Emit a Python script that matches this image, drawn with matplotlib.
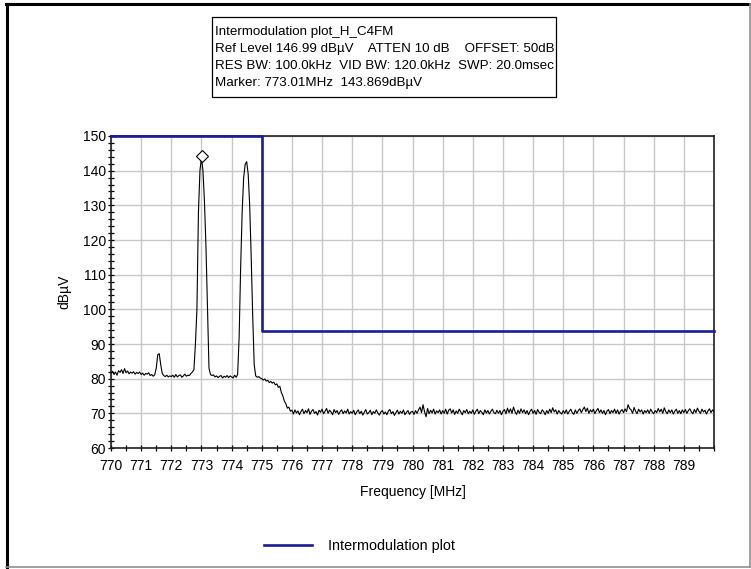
import numpy as np
import matplotlib.pyplot as plt
from matplotlib.lines import Line2D
from matplotlib.patches import Rectangle
from matplotlib.ticker import MultipleLocator

plt.rcParams['font.family'] = ['Liberation Sans', 'DejaVu Sans']

W, H = 751, 569  # pixels

# sweep: 770 - 790 MHz, 401 points
freq = np.linspace(770.0, 790.0, 401)
level = [
    81.6, 82.1, 81.2, 81.9, 81.0, 82.3, 81.8, 82.6, 81.5, 82.9, 81.7, 82.2, 81.4, 81.9, 81.6, 82.0, 81.3, 81.8, 81.5, 81.9,
    81.2, 81.6, 81.0, 81.5, 81.3, 81.7, 80.9, 81.2, 80.7, 81.1, 83.0, 86.9, 87.2, 84.0, 81.5, 80.9, 80.6, 81.0, 80.5, 80.8,
    80.6, 81.0, 80.4, 81.2, 80.5, 80.9, 81.1, 80.4, 80.8, 81.3, 80.7, 81.0, 80.9, 81.5, 81.9, 82.6, 90.0, 100.0, 128.0, 140.0,
    143.869, 140.0, 131.0, 118.0, 100.0, 83.0, 81.2, 80.9, 81.1, 80.5, 80.8, 80.3, 80.7, 80.9, 80.2, 80.7, 80.4, 80.9, 80.3, 80.8,
    80.5, 80.2, 81.0, 80.4, 81.2, 92.0, 112.0, 128.0, 138.0, 141.8, 142.6, 139.0, 130.0, 115.0, 98.0, 84.0, 80.8, 80.4, 80.6, 80.2,
    80.0, 79.6, 79.9, 79.3, 79.5, 78.9, 79.2, 78.7, 79.0, 78.2, 78.5, 77.5, 77.8, 76.0, 75.0, 73.5, 72.8, 71.5, 71.8, 70.6,
    70.9, 69.8, 71.0, 70.1, 70.7, 69.6, 70.5, 71.2, 69.9, 70.8, 70.2, 71.3, 69.7, 70.6, 71.1, 70.0, 70.5, 69.5, 70.9, 70.3,
    71.2, 69.9, 70.6, 71.4, 70.0, 70.9, 70.4, 69.6, 71.1, 70.2, 70.8, 69.7, 70.5, 71.0, 69.9, 70.7, 70.1, 71.2, 69.8, 70.5,
    70.0, 70.9, 69.6, 70.4, 71.0, 69.9, 70.6, 69.5, 70.3, 71.1, 69.8, 70.2, 70.9, 69.6, 70.5, 70.0, 71.0, 70.1, 69.5, 70.4,
    70.8, 69.8, 70.4, 69.6, 70.7, 71.1, 69.9, 70.5, 69.4, 70.2, 70.9, 69.8, 70.6, 70.0, 71.0, 69.6, 70.3, 70.8, 69.7, 70.4,
    70.6, 69.7, 70.8, 70.0, 71.0, 71.8, 70.2, 72.5, 70.4, 69.0, 71.4, 69.9, 70.9, 70.1, 71.2, 69.8, 70.7, 70.2, 71.0, 69.8,
    70.8, 70.0, 71.2, 69.8, 70.9, 71.3, 70.1, 71.0, 69.7, 70.7, 70.0, 71.2, 70.4, 69.6, 70.8, 70.2, 71.1, 69.9, 70.6, 70.0,
    71.0, 69.7, 70.6, 71.2, 69.9, 70.8, 70.3, 69.6, 71.0, 70.1, 70.8, 69.8, 70.6, 71.2, 70.2, 69.9, 70.9, 70.0, 70.8, 69.6,
    70.6, 71.1, 69.9, 71.5, 70.2, 71.3, 70.0, 71.8, 70.5, 69.7, 70.9, 70.0, 71.3, 70.2, 71.0, 69.9, 70.8, 69.6, 70.6, 71.2,
    70.0, 70.8, 69.7, 71.1, 70.3, 69.9, 71.0, 70.5, 69.6, 70.8, 70.0, 71.2, 70.2, 71.6, 70.4, 71.0, 69.8, 70.8, 70.2, 69.8,
    70.8, 70.0, 71.0, 69.8, 70.6, 71.2, 70.2, 69.7, 71.0, 70.0, 70.8, 71.3, 70.2, 71.1, 71.8, 70.5, 71.5, 70.0, 71.0, 70.4,
    71.2, 69.9, 70.8, 71.4, 70.2, 71.0, 70.0, 70.8, 69.6, 70.6, 71.1, 69.9, 70.8, 70.2, 71.2, 70.0, 71.0, 69.8, 70.6, 71.1,
    70.2, 71.3, 70.5, 72.5, 71.4, 71.0, 70.0, 71.7, 70.6, 69.9, 71.2, 70.4, 71.0, 69.8, 70.8, 70.2, 71.0, 70.0, 71.2, 70.4,
    69.9, 70.8, 70.2, 71.4, 70.4, 71.2, 70.0, 71.6, 70.5, 69.9, 71.0, 70.2, 71.0, 69.8, 70.6, 71.2, 70.0, 70.8, 69.9, 71.0,
    70.2, 71.1, 70.0, 70.8, 71.3, 70.4, 69.9, 71.1, 70.2, 71.5, 70.6, 70.0, 71.2, 70.4, 70.9, 69.8, 70.7, 71.3, 70.2, 71.0,
    70.5,
]

# limit mask
limit_freq = [770.0, 775.0, 790.0]
limit_level = [150.0, 93.8, 93.8]

marker_freq, marker_level = 773.01, 143.869

header = [
    'Intermodulation plot_H_C4FM',
    'Ref Level 146.99 dB\u00b5V    ATTEN 10 dB    OFFSET: 50dB',
    'RES BW: 100.0kHz  VID BW: 120.0kHz  SWP: 20.0msec',
    'Marker: 773.01MHz  143.869dB\u00b5V',
]

BLUE = '#1c1c96'


def fx(px):
    return px / W


def fy(py):
    return 1 - py / H


fig = plt.figure(figsize=(W / 100, H / 100), dpi=100)
ax = fig.add_axes([fx(111), fy(448), (714 - 111) / W, (448 - 136) / H])

ax.plot(freq, level, color='black', lw=0.8, zorder=3)
lim, = ax.plot(limit_freq, limit_level, drawstyle='steps-post', color=BLUE,
               lw=1.9, clip_on=False, zorder=4, label='Intermodulation plot')
ax.plot(marker_freq, marker_level + 0.5, marker='D', ms=6.5, mfc='white',
        mec='black', mew=0.8, zorder=5)

ax.set_xlim(770, 790)
ax.set_ylim(60, 150)
ax.xaxis.set_minor_locator(MultipleLocator(0.5))
ax.yaxis.set_major_locator(MultipleLocator(10))
ax.yaxis.set_minor_locator(MultipleLocator(2))
ax.set_xticks(np.arange(770, 790))
ax.set_xticklabels([str(v) for v in range(770, 790)])
ax.grid(True, which='major', color='#c8c8c8', lw=1.0, zorder=0)
ax.set_axisbelow(True)
ax.tick_params(which='both', direction='inout', length=4.5, width=0.9,
               color='black', labelsize=10)
ax.tick_params(axis='x', pad=6)
ax.tick_params(axis='y', pad=1.5)
for s in ax.spines.values():
    s.set_color('#202020')
    s.set_linewidth(1.2)

ax.set_xlabel('Frequency [MHz]', fontsize=10, labelpad=8)
ax.set_ylabel('dB\u00b5V', fontsize=10, labelpad=8)

# header box
fig.add_artist(Rectangle((fx(212), fy(97)), (556 - 212) / W, (97 - 17) / H,
                         transform=fig.transFigure, fill=False,
                         edgecolor='black', lw=0.9))
for i, line in enumerate(header):
    fig.text(fx(215), fy(32 + i * 17), line, fontsize=9.6, va='center',
             ha='left')

# legend at the bottom
fig.legend(handles=[lim], loc='center left', bbox_to_anchor=(fx(251), fy(546)),
           frameon=False, fontsize=10.4, handlelength=3.3, handletextpad=1.1)

# outer frame
fig.add_artist(Line2D([fx(7), fx(7)], [fy(4), fy(567)], color='black', lw=2.2,
                      transform=fig.transFigure))
fig.add_artist(Line2D([fx(6), fx(750)], [fy(4), fy(4)], color='black', lw=2.2,
                      transform=fig.transFigure))
fig.add_artist(Line2D([fx(6), fx(750)], [fy(567), fy(567)], color='#909090',
                      lw=1.2, transform=fig.transFigure))
fig.add_artist(Line2D([fx(749.5), fx(749.5)], [fy(4), fy(567)], color='#909090',
                      lw=1.2, transform=fig.transFigure))

fig.savefig('out.png', dpi=100)
